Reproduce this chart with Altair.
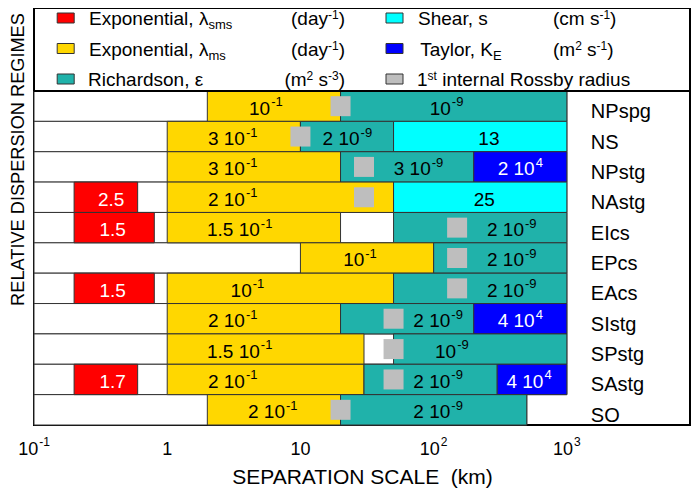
import math
import altair as alt
import pandas as pd

# ---------------- data ----------------
regimes = ["NPspg", "NS", "NPstg", "NAstg", "EIcs", "EPcs", "EAcs",
           "SIstg", "SPstg", "SAstg", "SO"]

seg_regime = ["NPspg", "NPspg",
              "NS", "NS", "NS",
              "NPstg", "NPstg", "NPstg",
              "NAstg", "NAstg", "NAstg",
              "EIcs", "EIcs", "EIcs",
              "EPcs", "EPcs",
              "EAcs", "EAcs", "EAcs",
              "SIstg", "SIstg", "SIstg",
              "SPstg", "SPstg",
              "SAstg", "SAstg", "SAstg", "SAstg",
              "SO", "SO"]
seg_process = ["ms", "rich",
               "ms", "rich", "shear",
               "ms", "rich", "taylor",
               "sms", "ms", "shear",
               "sms", "ms", "rich",
               "ms", "rich",
               "sms", "ms", "rich",
               "ms", "rich", "taylor",
               "ms", "rich",
               "sms", "ms", "rich", "taylor",
               "ms", "rich"]
seg_start_km = [2, 20,
                1, 10, 50,
                1, 20, 200,
                0.2, 1, 50,
                0.2, 1, 50,
                10, 100,
                0.2, 1, 50,
                1, 20, 200,
                1, 50,
                0.2, 1, 30, 300,
                2, 20]
seg_end_km = [20, 1000,
              10, 50, 1000,
              20, 200, 1000,
              0.6, 50, 1000,
              0.8, 20, 1000,
              100, 1000,
              0.8, 50, 1000,
              20, 200, 1000,
              30, 1000,
              0.6, 30, 300, 1000,
              20, 500]
seg_value_base = ["10", "10",
                  "3 10", "2 10", "13",
                  "3 10", "3 10", "2 10",
                  "2.5", "2 10", "25",
                  "1.5", "1.5 10", "2 10",
                  "10", "2 10",
                  "1.5", "10", "2 10",
                  "2 10", "2 10", "4 10",
                  "1.5 10", "10",
                  "1.7", "2 10", "2 10", "4 10",
                  "2 10", "2 10"]
seg_value_exp = ["-1", "-9",
                 "-1", "-9", "",
                 "-1", "-9", "4",
                 "", "-1", "",
                 "", "-1", "-9",
                 "-1", "-9",
                 "", "-1", "-9",
                 "-1", "-9", "4",
                 "-1", "-9",
                 "", "-1", "-9", "4",
                 "-1", "-9"]
seg_label_km = [5.5, 125,
                3.1, 22.5, 260,
                3.1, 77, 447,
                0.38, 3.1, 240,
                0.39, 3.5, 386,
                28, 386,
                0.39, 4.0, 386,
                3.1, 108, 447,
                3.5, 137,
                0.39, 3.1, 108, 520,
                6.2, 108]

rossby_km = [20, 10, 30, 30, 150, 150, 150, 50, 50, 50, 20]
row_start_km = 0.1

tick_values = [0.1, 1, 10, 100, 1000]
tick_base = ["10", "1", "10", "10", "10"]
tick_exp = ["-1", "", "", "2", "3"]

legend_keys = ["sms", "ms", "rich", "shear", "taylor", "rossby"]
legend_names = [
    [("Exponential, λ", "b"), ("sms", "sub")],
    [("Exponential, λ", "b"), ("ms", "sub")],
    [("Richardson, ε", "b")],
    [("Shear, s", "b")],
    [("Taylor, K", "b"), ("E", "sub")],
    [("1", "b"), ("st", "sup"), (" internal Rossby radius", "b")],
]
legend_units = [
    [("(day", "b"), ("-1", "sup"), (")", "b")],
    [("(day", "b"), ("-1", "sup"), (")", "b")],
    [("(m", "b"), ("2", "sup"), (" s", "b"), ("-3", "sup"), (")", "b")],
    [("(cm s", "b"), ("-1", "sup"), (")", "b")],
    [("(m", "b"), ("2", "sup"), (" s", "b"), ("-1", "sup"), (")", "b")],
    [],
]

# ---------------- styling / layout ----------------
FONT = "Liberation Sans"
COLORS = {"sms": "#FF0000", "ms": "#FFD700", "rich": "#20B2AA",
          "shear": "#00FFFF", "taylor": "#0000FF", "rossby": "#BEBEBE"}
TEXT_COL = {"sms": "white", "taylor": "white"}
EDGE = "#333333"

W, H = 656, 417
XMIN, XMAX = 0.1, 8400
LEG = 2.7335              # legend band height, in row units
PPD = W / math.log10(XMAX / XMIN)
FS_LAB, FS_SUP = 19, 13

_adv = {' ': 278, '(': 333, ')': 333, ',': 278, '-': 333, '.': 278,
        'λ': 556, 'ε': 450}
for ch in "0123456789":
    _adv[ch] = 556
_adv.update(dict(zip("ABCDEFGHIJKLMNOPQRSTUVWXYZ",
                     [667, 667, 722, 722, 667, 611, 778, 722, 278, 500, 667, 556, 833,
                      722, 778, 667, 778, 722, 667, 611, 722, 667, 944, 667, 667, 611])))
_adv.update(dict(zip("abcdefghijklmnopqrstuvwxyz",
                     [556, 556, 500, 556, 556, 278, 556, 556, 222, 222, 500, 222, 833,
                      556, 556, 556, 556, 333, 500, 278, 556, 500, 722, 500, 500, 500])))


def tw(s, size):
    return sum(_adv.get(c, 556) for c in s) * size / 1000.0


def shift_km(v, px):
    return v * 10 ** (px / PPD)


# segments table
seg_rows = []
for r, p, s, e, b, x_, at in zip(seg_regime, seg_process, seg_start_km, seg_end_km,
                                  seg_value_base, seg_value_exp, seg_label_km):
    i = regimes.index(r)
    wb = tw(b, FS_LAB)
    ws = tw(x_, FS_SUP) + (1 if x_ else 0)
    tot = wb + ws
    seg_rows.append(dict(regime=r, start=s, end=e, y0=i, y1=i + 1, ym=i + 0.5,
                         base=b, exp=x_, jx=shift_km(at, wb - tot / 2),
                         fill=COLORS[p], tcol=TEXT_COL.get(p, "black")))
seg_df = pd.DataFrame(seg_rows)

row_end = [max(e for r2, e in zip(seg_regime, seg_end_km) if r2 == r) for r in regimes]
row_df = pd.DataFrame({
    "regime": regimes,
    "y0": list(range(len(regimes))),
    "y1": [i + 1 for i in range(len(regimes))],
    "ym": [i + 0.5 for i in range(len(regimes))],
    "x0": [row_start_km] * len(regimes),
    "x1": row_end,
    "xl": [max(row_end)] * len(regimes),
    "rossby": rossby_km,
})

tick_rows = []
for v, b, x_ in zip(tick_values, tick_base, tick_exp):
    wb = tw(b, 18)
    ws = tw(x_, 12) + (1 if x_ else 0)
    tick_rows.append(dict(jx=shift_km(v, wb - (wb + ws) / 2), base=b, exp=x_))
tick_df = pd.DataFrame(tick_rows)

sep_df = pd.DataFrame({"x0": [XMIN], "x1": [XMAX], "y": [0]})

# legend layout (pixel positions inside the plot area)
LEG_BASE = [17, 47.5, 78]
COL_SW = [31.7, 360.5]
COL_TXT = [54, 383]
UNIT_RIGHT, UNIT_LEFT = 311, 519
KIND_FS = {"b": 19, "sub": 13, "sup": 12}
KIND_DY = {"b": 0, "sub": 4, "sup": -6}


def lay(parts, x, base):
    """first piece right-aligned at its end, the rest left-aligned after it"""
    out = []
    for k, (txt, kind) in enumerate(parts):
        fs = KIND_FS[kind]
        lead = len(txt) - len(txt.lstrip(" "))
        x += tw(" " * lead, fs)
        t = txt.lstrip(" ")
        w = tw(t, fs)
        if k == 0:
            out.append(dict(px=x + w, py=base + KIND_DY[kind], text=t, fs=fs, al="right"))
        else:
            out.append(dict(px=x, py=base + KIND_DY[kind], text=t, fs=fs, al="left"))
        x += w
    return out


def width(parts):
    return sum(tw(t, KIND_FS[k]) for t, k in parts)


sw_rows, txt_rows = [], []
for n, (key, names, units) in enumerate(zip(legend_keys, legend_names, legend_units)):
    col, row = divmod(n, 3)
    base = LEG_BASE[row]
    cx, cy = COL_SW[col], base - 7
    sw_rows.append(dict(x0=cx - 8.5, x1=cx + 8.5, y0=cy - 5, y1=cy + 5, fill=COLORS[key]))
    txt_rows += lay(names, COL_TXT[col], base)
    if units:
        ux = UNIT_RIGHT - width(units) if col == 0 else UNIT_LEFT
        txt_rows += lay(units, ux, base)
sw_df = pd.DataFrame(sw_rows)
ltxt_df = pd.DataFrame(txt_rows)

# ---------------- chart ----------------
xscale = alt.Scale(type="log", domain=[XMIN, XMAX], nice=False)
yscale = alt.Scale(domain=[-LEG, len(regimes)], reverse=True, nice=False, zero=False)
xaxis = alt.Axis(title="SEPARATION SCALE \u00a0(km)", labels=False, ticks=False, domain=False,
                 grid=False, titleFontSize=21, titleFontWeight="normal", titleColor="black",
                 titleFont=FONT, titleY=58, titleBaseline="alphabetic")
yaxis = alt.Axis(title="RELATIVE DISPERSION REGIMES", labels=False, ticks=False, domain=False,
                 grid=False, titleFontSize=18.2, titleFontWeight="normal", titleColor="black",
                 titleFont=FONT, titleAngle=270, titleX=-11, titleY=151,
                 titleAlign="center", titleBaseline="alphabetic")


def X(f):
    return alt.X(f"{f}:Q", scale=xscale, axis=xaxis)


def Y(f):
    return alt.Y(f"{f}:Q", scale=yscale, axis=yaxis)


rows_bg = alt.Chart(row_df).mark_rect(fill="white", stroke=EDGE, strokeWidth=1).encode(
    x=X("x0"), x2="x1", y=Y("y0"), y2="y1")

bars = alt.Chart(seg_df).mark_rect(stroke=EDGE, strokeWidth=1).encode(
    x=X("start"), x2="end", y=Y("y0"), y2="y1", fill=alt.Fill("fill:N", scale=None))

sep = alt.Chart(sep_df).mark_rule(color="black", strokeWidth=2).encode(
    x=X("x0"), x2="x1", y=Y("y"))

squares = alt.Chart(row_df).mark_square(size=400, color=COLORS["rossby"], opacity=1).encode(
    x=X("rossby"), y=Y("ym"))

lab_base = alt.Chart(seg_df).mark_text(align="right", baseline="alphabetic", dy=8.5,
                                       fontSize=FS_LAB, font=FONT).encode(
    x=X("jx"), y=Y("ym"), text="base:N", color=alt.Color("tcol:N", scale=None))
lab_exp = alt.Chart(seg_df).mark_text(align="left", baseline="alphabetic", dx=1, dy=0,
                                      fontSize=FS_SUP, font=FONT).encode(
    x=X("jx"), y=Y("ym"), text="exp:N", color=alt.Color("tcol:N", scale=None))

row_lab = alt.Chart(row_df).mark_text(align="left", baseline="alphabetic", dx=24, dy=12,
                                      fontSize=20, font=FONT, color="black").encode(
    x=X("xl"), y=Y("ym"), text="regime:N")

tick_b = alt.Chart(tick_df).mark_text(align="right", baseline="alphabetic", fontSize=18,
                                      font=FONT, color="black").encode(
    x=X("jx"), y=alt.value(H + 30), text="base:N")
tick_e = alt.Chart(tick_df).mark_text(align="left", baseline="alphabetic", dx=1, fontSize=12,
                                      font=FONT, color="black").encode(
    x=X("jx"), y=alt.value(H + 21), text="exp:N")

leg_sw = alt.Chart(sw_df).mark_rect(stroke=EDGE, strokeWidth=1).encode(
    x=alt.X("x0:Q", scale=None, axis=None), x2="x1",
    y=alt.Y("y0:Q", scale=None, axis=None), y2="y1",
    fill=alt.Fill("fill:N", scale=None))
leg_txt_r = alt.Chart(ltxt_df).transform_filter(alt.datum.al == "right").mark_text(
    align="right", baseline="alphabetic", font=FONT, color="black").encode(
    x=alt.X("px:Q", scale=None, axis=None), y=alt.Y("py:Q", scale=None, axis=None),
    text="text:N", size=alt.Size("fs:Q", scale=None))
leg_txt_l = alt.Chart(ltxt_df).transform_filter(alt.datum.al == "left").mark_text(
    align="left", baseline="alphabetic", font=FONT, color="black").encode(
    x=alt.X("px:Q", scale=None, axis=None), y=alt.Y("py:Q", scale=None, axis=None),
    text="text:N", size=alt.Size("fs:Q", scale=None))

chart = alt.layer(rows_bg, bars, sep, squares, lab_base, lab_exp, row_lab,
                  tick_b, tick_e, leg_sw, leg_txt_r, leg_txt_l).properties(
    width=W, height=H,
    autosize=alt.AutoSizeParams(type="none"),
    padding={"left": 26, "top": 0, "right": 2, "bottom": 63},
).configure(font=FONT).configure_view(stroke="black", strokeWidth=2)

chart.save("out.html", embed_options={"renderer": "svg", "actions": False})
